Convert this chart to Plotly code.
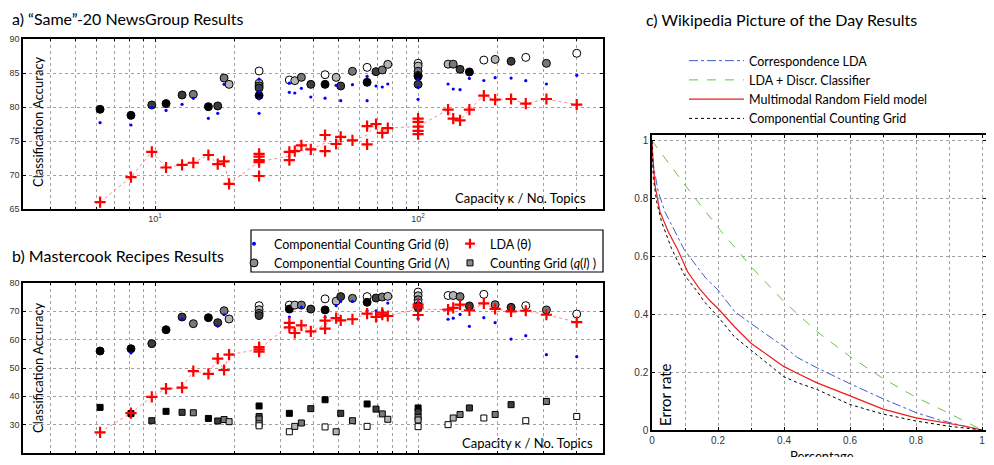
import plotly.graph_objects as go

# target picture size; the page body adds an 8px margin on every side, so the
# figure is drawn 16px smaller (no scrollbars) and reference positions shift by 8px
REF_W, REF_H = 994, 465
BODY = 8
W, H = REF_W - 2 * BODY, REF_H - 2 * BODY

# ---------------- Panel a: "Same"-20 NewsGroup ----------------
a_theta_x = [6.18, 8.10, 9.72, 11.01, 12.67, 13.98, 15.95, 17.31, 18.30,
             24.86, 24.86, 24.86, 24.86,
             32.4, 32.4, 33.98, 36.0, 39.1, 44.3, 48.8, 50.8, 56.3, 64.0, 64.0,
             69.2, 73.1, 76.7, 100, 100, 100,
             130, 136, 144.4, 156.7, 177.8, 196.3, 225.7, 256.7, 307.5, 401]
a_theta_y = [77.7, 77.35, 79.9, 79.5, 80.4, 81.27, 78.33, 79.07, 83.33,
             84.1, 82.25, 81.2, 79.07,
             83.5, 82.16, 82.06, 82.75, 81.47, 81.3, 83.19, 80.93, 83.28, 84.5, 80.93,
             83.09, 82.94, 83.38, 84.07, 82.9, 81.13,
             83.38, 82.65, 82.55, 84.2, 83.9, 84.31, 84.26, 83.87, 83.38, 84.66]

a_lam_x = [6.18, 8.10, 9.72, 11.01, 12.67, 13.98, 15.95, 17.31, 18.30, 19.12,
           24.86, 24.86, 24.86, 24.86, 24.86,
           32.4, 33.98, 36.0, 39.1, 44.3, 44.3, 48.8, 50.8, 56.3, 64.0, 64.0,
           69.2, 73.1, 76.7,
           100, 100, 100, 100, 100, 100,
           130, 136, 144.4, 156.7, 177.8, 196.3, 225.7, 256.7, 307.5, 401]
a_lam_y = [79.66, 78.77, 80.3, 80.5, 81.76, 81.86, 80.05, 80.15, 84.26, 83.33,
           85.3, 83.5, 83.1, 82.8, 81.7,
           83.97, 83.87, 84.36, 83.33, 84.75, 83.33, 84.36, 83.09, 85.25, 85.83, 83.63,
           85.2, 85.44, 86.27,
           86.42, 86.03, 85.25, 84.66, 84.51, 83.33,
           86.3, 86.3, 85.54, 85.15, 86.9, 87.0, 86.72, 87.3, 86.42, 87.9]
# window level (0 = smallest window ... 4 = largest), shown as fill shade
a_lam_level = [0, 0, 1, 0, 1, 2, 0, 1, 2, 3,
               4, 3, 2, 1, 0,
               4, 3, 2, 1, 4, 0, 3, 1, 2, 4, 0,
               1, 2, 3,
               4, 3, 2, 4, 0, 1,
               3, 2, 1, 0, 4, 3, 1, 4, 2, 4]

a_lda_x = [6.18, 8.10, 9.72, 11.01, 12.67, 13.98, 15.95, 17.31, 18.30, 19.12,
           24.86, 24.86, 24.86, 24.86, 24.86,
           32.4, 32.4, 33.98, 36.0, 39.1, 44.3, 44.3, 48.8, 50.8, 56.3, 64.0, 64.0,
           69.2, 73.1, 76.7,
           100, 100, 100, 100, 100,
           130, 136, 144.4, 156.7, 177.8, 196.3, 225.7, 256.7, 307.5, 401]
a_lda_y = [66.0, 69.7, 73.4, 71.1, 71.5, 71.8, 72.94, 71.6, 72.0, 68.7,
           73.1, 72.7, 72.2, 71.9, 69.85,
           72.2, 73.4, 73.5, 74.36, 73.77, 75.88, 73.5, 74.56, 75.6, 75.1, 77.2, 74.5,
           77.5, 76.2, 76.9,
           78.3, 77.8, 77.1, 76.5, 76.0,
           79.6, 78.28, 78.04, 79.6, 81.67, 81.08, 81.18, 80.49, 81.18, 80.34]

# ---------------- Panel b: Mastercook Recipes ----------------
b_theta_x = [8.10, 12.67, 17.31, 18.30, 32.4, 36.0, 44.3, 48.8, 50.8, 56.3,
             64.0, 69.2, 73.1, 76.7, 100, 100, 100, 100,
             130, 136, 144.4, 156.7, 177.8, 196.3, 225.7, 256.7, 307.5, 401]
b_theta_y = [55.3, 67.3, 64.8, 68.8, 68.0, 71.5, 67.9, 72.0, 73.5, 73.5,
             70.2, 70.2, 70.2, 72.9, 73.4, 71.8, 68.8, 67.4,
             67.2, 67.6, 68.9, 64.7, 67.76, 66.0, 60.2, 61.4, 54.7, 54.0]

b_lam_x = [6.18, 8.10, 9.72, 11.01, 12.67, 13.98, 15.95, 17.31, 18.30, 19.12,
           24.86, 24.86, 24.86, 24.86,
           32.4, 32.4, 33.98, 36.0, 39.1, 44.3, 44.3, 48.8, 50.8, 56.3, 64.0, 64.0,
           69.2, 73.1, 76.7,
           100, 100, 100, 100, 100, 100,
           130, 136, 144.4, 156.7, 177.8, 196.3, 225.7, 256.7, 307.5, 401]
b_lam_y = [56.0, 56.8, 58.6, 63.5, 68.0, 65.65, 67.76, 66.0, 70.2, 67.3,
           72.0, 70.6, 69.3, 68.5,
           72.2, 70.8, 72.2, 72.2, 70.8, 74.4, 70.5, 73.6, 75.2, 74.6, 75.2, 73.2,
           74.7, 75.06, 75.3,
           76.8, 75.5, 74.1, 72.9, 71.9, 71.3,
           75.6, 75.6, 75.2, 71.9, 76.0, 72.35, 71.4, 72.0, 70.5, 69.06]
b_lam_level = [0, 0, 1, 0, 1, 2, 0, 1, 2, 3,
               4, 3, 2, 1,
               4, 0, 3, 2, 1, 4, 0, 3, 1, 2, 4, 0,
               1, 2, 3,
               4, 3, 2, 4, 0, 1,
               4, 3, 2, 1, 4, 2, 1, 4, 2, 4]

b_lda_x = [6.18, 8.10, 9.72, 11.01, 12.67, 13.98, 15.95, 17.31, 18.30, 19.12,
           24.86, 24.86, 24.86,
           32.4, 32.4, 33.98, 36.0, 39.1, 44.3, 44.3, 48.8, 50.8, 56.3, 64.0,
           69.2, 73.1, 73.1, 76.7,
           100, 100, 100,
           130, 136, 144.4, 156.7, 177.8, 196.3, 225.7, 256.7, 307.5, 401]
b_lda_y = [27.3, 34.1, 39.8, 42.7, 43.06, 48.9, 47.9, 53.3, 49.3, 54.7,
           57.4, 56.6, 55.8,
           65.9, 64.35, 62.35, 65.06, 62.9, 66.7, 63.9, 67.6, 66.8, 67.2, 69.2,
           68.0, 69.5, 68.8, 68.35,
           72.35, 71.4, 68.7,
           70.6, 71.2, 72.35, 70.35, 72.8, 70.9, 70.0, 70.2, 68.8, 66.2]

b_cg_x = [6.18, 8.10, 9.72, 11.01, 12.67, 13.98, 15.95, 17.31, 18.30, 19.12,
          24.86, 24.86, 24.86, 24.86, 24.86,
          32.4, 32.4, 33.98, 36.0, 39.1, 44.3, 44.3, 48.8, 50.8, 56.3, 64.0, 64.0,
          69.2, 73.1, 76.7,
          100, 100, 100, 100, 100,
          130, 136, 144.4, 156.7, 177.8, 196.3, 225.7, 256.7, 307.5, 401]
b_cg_y = [36.1, 33.9, 31.4, 34.7, 34.35, 34.2, 32.2, 31.3, 31.8, 31.06,
          36.6, 32.9, 32.0, 30.3, 29.6,
          34.0, 27.5, 29.4, 30.6, 35.65, 38.8, 29.2, 27.5, 34.0, 31.4, 37.3, 29.4,
          35.5, 33.8, 31.9,
          35.9, 34.5, 32.6, 31.65, 29.3,
          30.0, 32.35, 33.6, 35.9, 32.35, 33.6, 37.06, 31.4, 38.2, 32.9]
b_cg_level = [0, 0, 1, 0, 1, 2, 0, 1, 2, 3,
              0, 1, 2, 3, 4,
              0, 4, 3, 2, 1, 0, 4, 3, 1, 2, 0, 4,
              1, 2, 3,
              0, 1, 2, 3, 4,
              4, 3, 2, 1, 4, 2, 1, 4, 2, 4]

# ---------------- Panel c: Wikipedia Picture of the Day ----------------
c_corr_x = [0, 0.004, 0.019, 0.039, 0.098, 0.163, 0.2, 0.25, 0.3, 0.4, 0.44, 0.5,
            0.6, 0.7, 0.8, 0.87, 0.95, 1.0]
c_corr_y = [1, 0.916, 0.824, 0.755, 0.623, 0.525, 0.484, 0.41, 0.368, 0.288, 0.251, 0.215,
            0.16, 0.108, 0.06, 0.035, 0.012, 0]
c_ldad_x = [0, 0.1, 0.2, 0.3, 0.4, 0.44, 0.5, 0.6, 0.7, 0.8, 0.9, 1.0]
c_ldad_y = [1, 0.847, 0.70, 0.565, 0.444, 0.403, 0.340, 0.254, 0.178, 0.113, 0.058, 0.0]
c_mrf_x = [0, 0.002, 0.009, 0.024, 0.049, 0.078, 0.108, 0.143, 0.177, 0.2, 0.25, 0.3,
           0.35, 0.4, 0.44, 0.5, 0.6, 0.7, 0.8, 0.9, 0.95, 1.0]
c_mrf_y = [1, 0.95, 0.847, 0.755, 0.686, 0.623, 0.547, 0.49, 0.445, 0.42, 0.357, 0.30,
           0.259, 0.219, 0.196, 0.163, 0.118, 0.072, 0.042, 0.023, 0.013, 0]
c_ccg_x = [0, 0.004, 0.014, 0.029, 0.059, 0.098, 0.138, 0.158, 0.2, 0.25, 0.3, 0.35,
           0.4, 0.44, 0.5, 0.6, 0.7, 0.8, 0.9, 1.0]
c_ccg_y = [1, 0.87, 0.79, 0.72, 0.628, 0.536, 0.478, 0.444, 0.392, 0.322, 0.276, 0.23,
           0.184, 0.164, 0.14, 0.088, 0.055, 0.031, 0.013, 0]

# ---------------- axes ticks ----------------
log_major = [10, 100]
log_major_text = ["10<sup>1</sup>", "10<sup>2</sup>"]
log_minor = [4, 5, 6, 7, 8, 9, 20, 30, 40, 50, 60, 70, 80, 90, 200, 300, 400]
a_yticks = [65, 70, 75, 80, 85, 90]
b_yticks = [20, 30, 40, 50, 60, 70, 80]
c_tick_step = 0.2
c_xminor_step = 0.1

# ---------------- styling ----------------
FONT = "Lato"
SHADES = ["#000000", "#3c3c3c", "#787878", "#b4b4b4", "#ffffff"]


def X(px):
    return min(1.0, (px - BODY) / W)


def Y(py):
    return max(0.0, 1 - (py - BODY) / H)


def group_mean(xs, ys):
    d = {}
    for x, y in zip(xs, ys):
        d.setdefault(x, []).append(y)
    ks = sorted(d)
    return ks, [sum(d[k]) / len(d[k]) for k in ks]


fig = go.Figure()


def add_panel(xa, ya, theta_x, theta_y, lam_x, lam_y, lam_lvl, lda_x, lda_y,
              cg=None):
    lx, ly = group_mean(lda_x, lda_y)
    fig.add_trace(go.Scatter(x=lx, y=ly, mode="lines", xaxis=xa, yaxis=ya,
                             line=dict(color="#ff8a8a", width=1, dash="dot"),
                             showlegend=False, hoverinfo="skip"))
    if cg is not None:
        cx, cy, clv = cg
        fig.add_trace(go.Scatter(x=cx, y=cy, mode="markers", xaxis=xa, yaxis=ya,
                                 marker=dict(symbol="square", size=6,
                                             color=[SHADES[v] for v in clv],
                                             line=dict(color="black", width=1)),
                                 showlegend=False))
    fig.add_trace(go.Scatter(x=lam_x, y=lam_y, mode="markers", xaxis=xa, yaxis=ya,
                             marker=dict(symbol="circle", size=8,
                                         color=[SHADES[v] for v in lam_lvl],
                                         line=dict(color="black", width=1)),
                             showlegend=False))
    fig.add_trace(go.Scatter(x=theta_x, y=theta_y, mode="markers", xaxis=xa, yaxis=ya,
                             marker=dict(symbol="circle", size=3.2, color="#0000ff"),
                             showlegend=False))
    fig.add_trace(go.Scatter(x=lda_x, y=lda_y, mode="markers", xaxis=xa, yaxis=ya,
                             marker=dict(symbol="cross-thin", size=8,
                                         line=dict(color="#ff0000", width=2.2)),
                             showlegend=False))


add_panel("x", "y", a_theta_x, a_theta_y, a_lam_x, a_lam_y, a_lam_level,
          a_lda_x, a_lda_y)
add_panel("x2", "y2", b_theta_x, b_theta_y, b_lam_x, b_lam_y, b_lam_level,
          b_lda_x, b_lda_y, cg=(b_cg_x, b_cg_y, b_cg_level))

# legend entries for panels a/b
fig.add_trace(go.Scatter(x=[None], y=[None], mode="markers", xaxis="x2", yaxis="y2",
                         name="Componential Counting Grid (θ)", legend="legend",
                         marker=dict(symbol="circle", size=4, color="#0000ff")))
fig.add_trace(go.Scatter(x=[None], y=[None], mode="markers", xaxis="x2", yaxis="y2",
                         name="Componential Counting Grid (Λ)", legend="legend",
                         marker=dict(symbol="circle", size=8, color="#8c8c8c",
                                     line=dict(color="black", width=1))))
fig.add_trace(go.Scatter(x=[None], y=[None], mode="markers", xaxis="x2", yaxis="y2",
                         name="LDA (θ)", legend="legend2",
                         marker=dict(symbol="cross-thin", size=7,
                                     line=dict(color="#ff0000", width=2.2))))
fig.add_trace(go.Scatter(x=[None], y=[None], mode="markers", xaxis="x2", yaxis="y2",
                         name="Counting Grid (<i>q</i>(<i>l</i>) )", legend="legend2",
                         marker=dict(symbol="square", size=6, color="#8c8c8c",
                                     line=dict(color="black", width=1))))

# panel c curves
fig.add_trace(go.Scatter(x=c_corr_x, y=c_corr_y, mode="lines", xaxis="x3", yaxis="y3",
                         name="Correspondence LDA", legend="legend3",
                         line=dict(color="#3f5fc8", width=1, dash="dashdot")))
fig.add_trace(go.Scatter(x=c_ldad_x, y=c_ldad_y, mode="lines", xaxis="x3", yaxis="y3",
                         name="LDA + Discr. Classifier", legend="legend3",
                         line=dict(color="#6cc24a", width=1, dash="dash")))
fig.add_trace(go.Scatter(x=c_mrf_x, y=c_mrf_y, mode="lines", xaxis="x3", yaxis="y3",
                         name="Multimodal Random Field model", legend="legend3",
                         line=dict(color="#ee1c1c", width=1.2)))
fig.add_trace(go.Scatter(x=c_ccg_x, y=c_ccg_y, mode="lines", xaxis="x3", yaxis="y3",
                         name="Componential Counting Grid", legend="legend3",
                         line=dict(color="#000000", width=1, dash="dot")))

GRIDC = "#a0a0a0"
grid_common = dict(showgrid=True, gridcolor=GRIDC, gridwidth=1, griddash="dot",
                   zeroline=False, showline=True, linecolor="black", linewidth=1.5,
                   mirror="ticks", ticks="inside", ticklen=3, tickcolor="black",
                   automargin=False)
minor_common = dict(showgrid=True, gridcolor=GRIDC, gridwidth=1, griddash="dot",
                    ticks="inside", ticklen=2, tickcolor="black")
tick_font_small = dict(family="Liberation Sans", size=9, color="#333333")
tick_font_c = dict(family="Liberation Sans", size=10, color="#333333")

fig.update_layout(
    width=W, height=H, margin=dict(l=0, r=0, t=0, b=0),
    paper_bgcolor="white", plot_bgcolor="white",
    font=dict(family=FONT, color="black"),
    xaxis=dict(type="log", range=[0.498, 2.703], domain=[X(23), X(603)], anchor="y",
               tickmode="array", tickvals=log_major, ticktext=log_major_text,
               tickfont=tick_font_small,
               minor=dict(tickmode="array", tickvals=log_minor, **minor_common),
               **grid_common),
    yaxis=dict(range=[65, 90], domain=[Y(209), Y(39)], anchor="x",
               tickmode="array", tickvals=a_yticks, tickfont=tick_font_small,
               **grid_common),
    xaxis2=dict(type="log", range=[0.498, 2.703], domain=[X(23), X(603)], anchor="y2",
                tickmode="array", tickvals=log_major, ticktext=log_major_text,
                tickfont=tick_font_small,
                minor=dict(tickmode="array", tickvals=log_minor, **minor_common),
                **grid_common),
    yaxis2=dict(range=[20, 80], domain=[Y(453), Y(283)], anchor="x2",
                tickmode="array", tickvals=b_yticks, tickfont=tick_font_small,
                **grid_common),
    xaxis3=dict(range=[0, 1.012], domain=[X(652), X(986)], anchor="y3",
                tickmode="linear", tick0=0, dtick=c_tick_step,
                tickfont=tick_font_c, ticklabeloverflow="allow",
                minor=dict(tickmode="linear", tick0=0, dtick=c_xminor_step,
                           **minor_common),
                **grid_common),
    yaxis3=dict(range=[0, 1.02], domain=[Y(430), Y(135)], anchor="x3",
                tickmode="linear", tick0=0, dtick=c_tick_step,
                tickfont=tick_font_c, **grid_common),
    legend=dict(x=X(234), y=Y(229), xanchor="left", yanchor="top",
                bgcolor="rgba(0,0,0,0)", borderwidth=0, tracegroupgap=0,
                font=dict(family=FONT, size=12.5, color="black")),
    legend2=dict(x=X(450), y=Y(229), xanchor="left", yanchor="top",
                 bgcolor="rgba(0,0,0,0)", borderwidth=0, tracegroupgap=0,
                 font=dict(family=FONT, size=12.5, color="black")),
    legend3=dict(x=X(684), y=Y(46), xanchor="left", yanchor="top", itemwidth=55,
                 bgcolor="rgba(0,0,0,0)", borderwidth=0, tracegroupgap=0,
                 font=dict(family=FONT, size=12.5, color="black")),
    shapes=[dict(type="rect", xref="paper", yref="paper",
                 x0=X(251), x1=X(603), y0=Y(272), y1=Y(230),
                 line=dict(color="black", width=1.2), fillcolor="rgba(0,0,0,0)",
                 layer="below")],
)

ann = [
    dict(text="a) “Same”-20 NewsGroup Results", x=X(10), y=Y(18), size=16,
         xanchor="left", angle=0),
    dict(text="b) Mastercook Recipes Results", x=X(10), y=Y(255), size=16,
         xanchor="left", angle=0),
    dict(text="c) Wikipedia Picture of the Day Results", x=X(644), y=Y(19), size=16,
         xanchor="left", angle=0),
    dict(text="Capacity κ / No. Topics", x=X(588), y=Y(198), size=13,
         xanchor="right", angle=0),
    dict(text="Capacity κ / No. Topics", x=X(595), y=Y(443), size=13,
         xanchor="right", angle=0),
    dict(text="Classification Accuracy", x=X(38), y=Y(122), size=13,
         xanchor="center", angle=-90),
    dict(text="Classification Accuracy", x=X(38), y=Y(368), size=13,
         xanchor="center", angle=-90),
    dict(text="Error rate", x=X(665), y=Y(395), size=15, xanchor="center", angle=-90),
    dict(text="Percentage", x=X(822), y=Y(456), size=13, xanchor="center", angle=0),
]
for a in ann:
    fig.add_annotation(text=a["text"], x=a["x"], y=a["y"], xref="paper", yref="paper",
                       xanchor=a["xanchor"], yanchor="middle", textangle=a["angle"],
                       showarrow=False,
                       font=dict(family=FONT, size=a["size"], color="black"))

fig.write_html("out.html")
